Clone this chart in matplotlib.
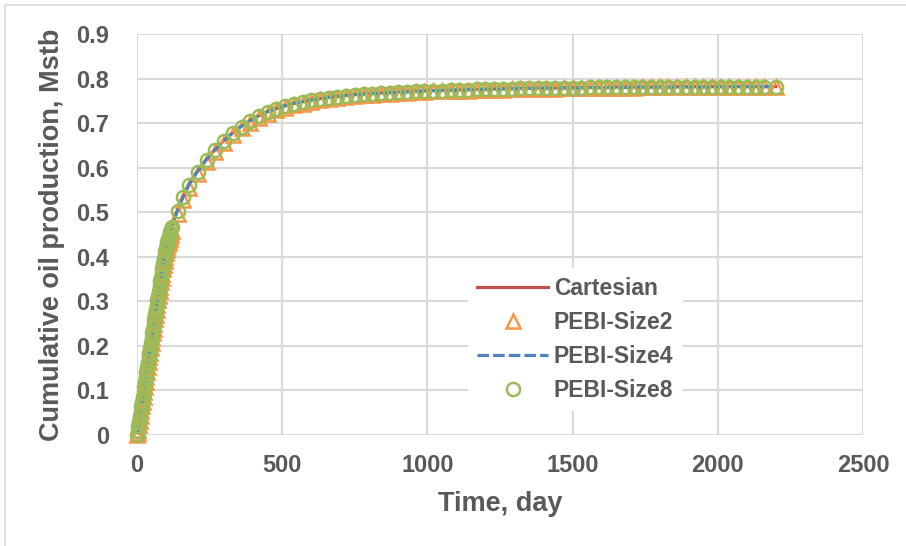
import matplotlib
matplotlib.use('Agg')
import matplotlib.pyplot as plt
from matplotlib.patches import Rectangle

plt.rcParams['font.family'] = ['Liberation Sans', 'DejaVu Sans']
plt.rcParams['font.weight'] = 'bold'

# time, day (line series: Cartesian, PEBI-Size4)
time_day = [0, 5, 10, 15, 20, 25, 30, 35, 40, 45, 50, 55, 60, 65, 70, 75, 80, 85, 90, 95, 100,
            110, 120, 130, 140, 150, 160, 170, 180, 195, 210,
            240, 270, 300, 330, 360, 390, 420, 450, 480, 510, 540, 570, 600, 630, 660, 690,
            720, 750, 780, 810, 840, 870, 900, 930, 960, 990,
            1020, 1050, 1080, 1110, 1140, 1170, 1200, 1230, 1260, 1290, 1320, 1350, 1380,
            1410, 1440, 1470, 1500, 1530, 1560, 1590, 1620, 1650, 1680, 1710, 1740, 1770,
            1800, 1830, 1860, 1890, 1920, 1950, 1980, 2010, 2040, 2070, 2100, 2130, 2160, 2200]

# time, day (marker series: PEBI-Size2, PEBI-Size8) - finer report steps early on
time_marker = [0, 2.5, 5, 7.5, 10, 12.5, 15, 17.5, 20, 22.5, 25, 27.5, 30, 32.5, 35, 37.5,
               40, 42.5, 45, 47.5, 50, 52.5, 55, 57.5, 60, 62.5, 65, 67.5, 70, 72.5, 75, 77.5,
               80, 82.5, 85, 87.5, 90, 92.5, 95, 97.5, 100, 102.5, 105, 107.5, 110, 112.5,
               115, 117.5, 120,
               140, 160, 180, 210,
               240, 270, 300, 330, 360, 390, 420, 450, 480, 510, 540, 570, 600, 630, 660, 690,
               720, 750, 780, 810, 840, 870, 900, 930, 960, 990,
               1020, 1050, 1080, 1110, 1140, 1170, 1200, 1230, 1260, 1290, 1320, 1350, 1380,
               1410, 1440, 1470, 1500, 1530, 1560, 1590, 1620, 1650, 1680, 1710, 1740, 1770,
               1800, 1830, 1860, 1890, 1920, 1950, 1980, 2010, 2040, 2070, 2100, 2130, 2160, 2200]

# cumulative oil production, Mstb
cartesian = [0.000, 0.021, 0.043, 0.065, 0.087, 0.109, 0.131, 0.153, 0.175, 0.197, 0.219,
             0.240, 0.262, 0.283, 0.304, 0.325, 0.346, 0.366, 0.386, 0.405, 0.422,
             0.447, 0.469, 0.489, 0.506, 0.522, 0.537, 0.551, 0.564, 0.580, 0.594,
             0.620, 0.642, 0.662, 0.679, 0.694, 0.706, 0.717, 0.726, 0.733, 0.739, 0.744,
             0.748, 0.752, 0.755, 0.758, 0.760, 0.762, 0.764, 0.766, 0.767, 0.768, 0.769,
             0.770, 0.771, 0.772, 0.773,
             0.773, 0.774, 0.774, 0.775, 0.775, 0.776, 0.776, 0.777, 0.777, 0.778, 0.778,
             0.778, 0.779, 0.779, 0.779, 0.779, 0.780, 0.780, 0.780, 0.780, 0.780, 0.781,
             0.781, 0.781, 0.781, 0.781, 0.781, 0.781, 0.782, 0.782, 0.782, 0.782, 0.782,
             0.782, 0.782, 0.782, 0.782, 0.782, 0.782, 0.782]

pebi_size4 = [0.000, 0.020, 0.042, 0.064, 0.086, 0.108, 0.130, 0.152, 0.174, 0.196, 0.218,
              0.239, 0.261, 0.282, 0.303, 0.324, 0.345, 0.365, 0.385, 0.404, 0.421,
              0.446, 0.468, 0.487, 0.505, 0.521, 0.536, 0.550, 0.563, 0.579, 0.593,
              0.619, 0.641, 0.661, 0.678, 0.693, 0.706, 0.717, 0.726, 0.733, 0.739, 0.744,
              0.748, 0.752, 0.755, 0.758, 0.760, 0.762, 0.764, 0.765, 0.766, 0.767, 0.768,
              0.769, 0.770, 0.771, 0.772,
              0.773, 0.773, 0.774, 0.774, 0.775, 0.776, 0.776, 0.776, 0.777, 0.777, 0.778,
              0.778, 0.778, 0.779, 0.779, 0.779, 0.779, 0.779, 0.780, 0.780, 0.780, 0.780,
              0.780, 0.781, 0.781, 0.781, 0.781, 0.781, 0.781, 0.781, 0.781, 0.781, 0.781,
              0.782, 0.782, 0.782, 0.782, 0.782, 0.782, 0.782]

pebi_size2 = [0.000, 0.005, 0.012, 0.022, 0.032, 0.042, 0.053, 0.064, 0.075, 0.086, 0.097,
              0.108, 0.119, 0.130, 0.141, 0.152, 0.163, 0.174, 0.185, 0.195, 0.206, 0.217,
              0.228, 0.238, 0.249, 0.260, 0.270, 0.281, 0.291, 0.302, 0.312, 0.323, 0.333,
              0.343, 0.353, 0.362, 0.372, 0.382, 0.391, 0.400, 0.408, 0.415, 0.421, 0.428,
              0.434, 0.440, 0.446, 0.451, 0.457,
              0.495, 0.527, 0.554, 0.586,
              0.612, 0.635, 0.655, 0.673, 0.688, 0.701, 0.712, 0.721, 0.729, 0.735, 0.740,
              0.744, 0.748, 0.751, 0.754, 0.757, 0.759, 0.761, 0.763, 0.764, 0.765, 0.766,
              0.767, 0.768, 0.769, 0.770,
              0.771, 0.772, 0.772, 0.773, 0.773, 0.774, 0.774, 0.775, 0.775, 0.776, 0.776,
              0.776, 0.777, 0.777, 0.777, 0.778, 0.778, 0.778, 0.778, 0.779, 0.779, 0.779,
              0.779, 0.779, 0.780, 0.780, 0.780, 0.780, 0.780, 0.780, 0.781, 0.781, 0.781,
              0.781, 0.781, 0.781, 0.781, 0.781, 0.781, 0.781]

pebi_size8 = [0.000, 0.009, 0.020, 0.031, 0.042, 0.053, 0.064, 0.075, 0.086, 0.097, 0.108,
              0.119, 0.130, 0.141, 0.152, 0.163, 0.174, 0.185, 0.196, 0.206, 0.217, 0.228,
              0.239, 0.249, 0.260, 0.271, 0.282, 0.292, 0.303, 0.313, 0.324, 0.334, 0.345,
              0.355, 0.365, 0.375, 0.385, 0.394, 0.403, 0.412, 0.420, 0.427, 0.433, 0.439,
              0.445, 0.451, 0.456, 0.462, 0.467,
              0.503, 0.534, 0.561, 0.591,
              0.617, 0.640, 0.660, 0.677, 0.692, 0.705, 0.716, 0.725, 0.732, 0.738, 0.743,
              0.747, 0.751, 0.754, 0.757, 0.759, 0.761, 0.763, 0.765, 0.766, 0.767, 0.768,
              0.769, 0.770, 0.771, 0.772,
              0.773, 0.773, 0.774, 0.774, 0.775, 0.776, 0.776, 0.776, 0.777, 0.777, 0.778,
              0.778, 0.778, 0.779, 0.779, 0.779, 0.779, 0.779, 0.780, 0.780, 0.780, 0.780,
              0.780, 0.781, 0.781, 0.781, 0.781, 0.781, 0.781, 0.781, 0.781, 0.781, 0.781,
              0.782, 0.782, 0.782, 0.782, 0.782, 0.782, 0.782]

x_ticks = [0, 500, 1000, 1500, 2000, 2500]
y_ticks = [0, 0.1, 0.2, 0.3, 0.4, 0.5, 0.6, 0.7, 0.8, 0.9]
y_tick_labels = ['0', '0.1', '0.2', '0.3', '0.4', '0.5', '0.6', '0.7', '0.8', '0.9']

text_color = '#595959'
grid_color = '#D9D9D9'

fig = plt.figure(figsize=(9.06, 5.46), dpi=100, facecolor='white')
ax = fig.add_axes([137 / 906, 1 - 435 / 546, 726 / 906, 401 / 546])

ax.plot(time_day, cartesian, color='#C0504D', lw=2.3, label='Cartesian', zorder=3)
ax.plot(time_marker, pebi_size2, ls='none', marker='^', ms=9.5, mfc='none', mec='#F79646',
        mew=1.8, label='PEBI-Size2', zorder=4, clip_on=False)
ax.plot(time_day, pebi_size4, color='#4F81BD', lw=2.3, ls=(0, (3.6, 1.3)),
        label='PEBI-Size4', zorder=5)
ax.plot(time_marker, pebi_size8, ls='none', marker='o', ms=9.5, mfc='none', mec='#9BBB59',
        mew=1.8, label='PEBI-Size8', zorder=6, clip_on=False)

ax.set_xlim(0, 2500)
ax.set_ylim(0, 0.9)
ax.set_xticks(x_ticks)
ax.set_yticks(y_ticks)
ax.set_yticklabels(y_tick_labels)
ax.grid(True, color=grid_color, lw=1.5)
ax.set_axisbelow(True)
for s in ax.spines.values():
    s.set_visible(False)
ax.tick_params(length=0, labelsize=17, labelcolor=text_color)
ax.tick_params(axis='y', pad=20)
ax.tick_params(axis='x', pad=14)
for lab in ax.get_xticklabels() + ax.get_yticklabels():
    lab.set_fontweight('bold')

ax.set_xlabel('Time, day', fontsize=19.5, fontweight='bold', color=text_color, labelpad=10)
ax.set_ylabel('Cumulative oil production, Mstb', fontsize=19.5, fontweight='bold',
              color=text_color, labelpad=8)

leg = ax.legend(loc='upper left', bbox_to_anchor=(468 / 906, 1 - 268 / 546),
                bbox_transform=fig.transFigure, frameon=True, fancybox=False,
                edgecolor='none', facecolor='white', framealpha=1,
                fontsize=16.5, handlelength=3.1, handletextpad=0.25,
                labelspacing=0.48, borderpad=0.4, borderaxespad=0)
for t in leg.get_texts():
    t.set_color(text_color)
    t.set_fontweight('bold')

# chart area border (only top and left edges fall inside the picture)
fig.patches.append(Rectangle((5 / 906, -0.5), 2, 1.5 - 5 / 546, transform=fig.transFigure,
                             fill=False, edgecolor=grid_color, lw=1.2))

fig.savefig('out.png', dpi=100, facecolor='white')
